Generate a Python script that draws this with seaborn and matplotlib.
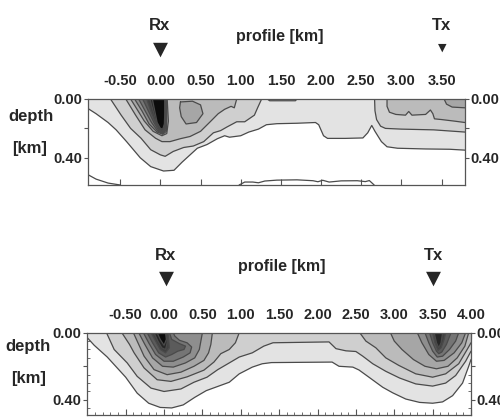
import matplotlib
matplotlib.use("Agg")
import matplotlib.pyplot as plt
import seaborn as sns

# --- contour boundaries: (profile km, depth km) ---
# upper section
top_l1 = [(-0.9, 0.065), (-0.8, 0.1), (-0.65, 0.16), (-0.55, 0.21), (-0.42, 0.29), (-0.25, 0.4),
          (-0.12, 0.46), (0.04, 0.49), (0.17, 0.485), (0.27, 0.43), (0.37, 0.38), (0.46, 0.335),
          (0.58, 0.31), (0.71, 0.27), (0.8, 0.25), (0.86, 0.26), (1.0, 0.25), (1.1, 0.225),
          (1.22, 0.205), (1.32, 0.175), (1.45, 0.168), (1.7, 0.165), (1.93, 0.16), (1.97, 0.175),
          (2.03, 0.25), (2.08, 0.268), (2.3, 0.268), (2.52, 0.265), (2.58, 0.23), (2.63, 0.18),
          (2.67, 0.22), (2.75, 0.29), (2.82, 0.325), (2.95, 0.335), (3.3, 0.34), (3.6, 0.342), (3.79, 0.348)]
top_l2a = [(-0.62, 0.0), (-0.49, 0.108), (-0.37, 0.2), (-0.24, 0.267), (-0.12, 0.345), (0.0, 0.38),
           (0.06, 0.39), (0.16, 0.357), (0.29, 0.33), (0.41, 0.32), (0.54, 0.29), (0.66, 0.23),
           (0.75, 0.215), (0.83, 0.19), (0.95, 0.155), (1.05, 0.155), (1.17, 0.11), (1.21, 0.06), (1.26, 0.0)]
top_l2b = [(2.665, 0.0), (2.67, 0.08), (2.69, 0.14), (2.74, 0.185), (2.8, 0.2), (3.0, 0.205),
           (3.4, 0.21), (3.79, 0.225)]
top_l2c = [(1.33, 0.0), (1.36, 0.012), (1.68, 0.012), (1.7, 0.0)]
top_l3a = [(-0.43, 0.0), (-0.31, 0.108), (-0.19, 0.21), (-0.06, 0.267), (0.02, 0.29), (0.12, 0.29),
           (0.25, 0.27), (0.37, 0.255), (0.5, 0.22), (0.62, 0.155), (0.72, 0.1), (0.8, 0.07),
           (0.88, 0.05), (0.92, 0.06), (0.95, 0.0)]
top_l3b = [(2.82, 0.0), (2.82, 0.05), (2.85, 0.09), (2.93, 0.105), (3.05, 0.11), (3.09, 0.085),
           (3.13, 0.11), (3.3, 0.105), (3.36, 0.075), (3.39, 0.1), (3.41, 0.135), (3.5, 0.14),
           (3.65, 0.15), (3.79, 0.16)]
top_l4a = [(-0.37, 0.0), (-0.29, 0.07), (-0.2, 0.15), (-0.09, 0.22), (0.02, 0.25), (0.08, 0.235),
           (0.1, 0.15), (0.09, 0.05), (0.085, 0.0)]
top_l4b = [(3.53, 0.0), (3.56, 0.035), (3.63, 0.055), (3.79, 0.06)]
top_blob = [(0.25, 0.02), (0.4, 0.015), (0.5, 0.04), (0.53, 0.1), (0.45, 0.16), (0.32, 0.17),
            (0.26, 0.12), (0.24, 0.06), (0.25, 0.02)]
top_l5 = [(-0.32, 0.0), (-0.23, 0.08), (-0.14, 0.17), (-0.04, 0.225), (0.03, 0.24), (0.075, 0.22), (0.08, 0.1), (0.08, 0.0)]
top_l6 = [(-0.27, 0.0), (-0.19, 0.08), (-0.11, 0.16), (-0.03, 0.22), (0.03, 0.235), (0.07, 0.21), (0.075, 0.1), (0.075, 0.0)]
top_l7 = [(-0.22, 0.0), (-0.15, 0.08), (-0.08, 0.16), (-0.02, 0.215), (0.03, 0.23), (0.065, 0.2), (0.07, 0.1), (0.07, 0.0)]
top_l8 = [(-0.17, 0.0), (-0.12, 0.08), (-0.06, 0.16), (-0.01, 0.21), (0.03, 0.225), (0.06, 0.19), (0.065, 0.1), (0.065, 0.0)]
top_l9 = [(-0.13, 0.0), (-0.09, 0.08), (-0.05, 0.16), (0.0, 0.205), (0.03, 0.215), (0.055, 0.18), (0.06, 0.1), (0.06, 0.0)]
top_l10 = [(-0.1, 0.0), (-0.07, 0.08), (-0.04, 0.16), (0.0, 0.2), (0.03, 0.205), (0.05, 0.17), (0.055, 0.1), (0.055, 0.0)]
top_deep_a = [(-0.9, 0.515), (-0.8, 0.545), (-0.65, 0.572), (-0.5, 0.585)]
top_deep_b = [(0.98, 0.585), (1.05, 0.565), (1.15, 0.565), (1.22, 0.57), (1.3, 0.558), (1.45, 0.552),
              (1.7, 0.55), (1.9, 0.556), (1.96, 0.563), (2.02, 0.553), (2.1, 0.565), (2.25, 0.557),
              (2.45, 0.556), (2.55, 0.562), (2.6, 0.555), (2.66, 0.585)]

# lower section
bot_l1 = [(-1.0, 0.03), (-0.91, 0.075), (-0.74, 0.145), (-0.63, 0.2), (-0.5, 0.265), (-0.35, 0.36),
          (-0.2, 0.42), (-0.05, 0.445), (0.1, 0.448), (0.25, 0.43), (0.4, 0.385), (0.55, 0.345),
          (0.7, 0.32), (0.85, 0.295), (0.98, 0.245), (1.15, 0.205), (1.28, 0.185), (1.4, 0.178),
          (2.19, 0.175), (2.28, 0.2), (2.46, 0.205), (2.54, 0.222), (2.67, 0.265), (2.85, 0.325),
          (2.98, 0.358), (3.15, 0.395), (3.33, 0.415), (3.5, 0.42), (3.63, 0.412), (3.76, 0.375),
          (3.89, 0.3), (3.97, 0.2), (4.0, 0.16)]
bot_l2 = [(-0.75, 0.0), (-0.65, 0.1), (-0.48, 0.18), (-0.35, 0.26), (-0.17, 0.33), (0.0, 0.35),
          (0.22, 0.335), (0.39, 0.295), (0.56, 0.265), (0.7, 0.22), (0.85, 0.18), (0.98, 0.145),
          (1.15, 0.12), (1.3, 0.08), (1.42, 0.06), (2.15, 0.055), (2.24, 0.095), (2.37, 0.108),
          (2.5, 0.112), (2.59, 0.14), (2.72, 0.185), (2.89, 0.23), (3.07, 0.27), (3.28, 0.305),
          (3.5, 0.318), (3.67, 0.3), (3.8, 0.255), (3.93, 0.17), (4.0, 0.11)]
bot_l3a = [(-0.55, 0.0), (-0.45, 0.07), (-0.39, 0.12), (-0.26, 0.21), (-0.09, 0.28), (0.09, 0.29),
           (0.3, 0.263), (0.52, 0.223), (0.65, 0.175), (0.74, 0.125), (0.85, 0.1), (0.93, 0.06), (0.98, 0.0)]
bot_l3b = [(2.55, 0.0), (2.63, 0.05), (2.76, 0.09), (2.89, 0.15), (3.06, 0.195), (3.28, 0.245),
           (3.5, 0.265), (3.67, 0.245), (3.84, 0.185), (3.95, 0.1), (4.0, 0.06)]
bot_l4a = [(-0.4, 0.0), (-0.33, 0.07), (-0.26, 0.14), (-0.13, 0.22), (0.04, 0.25), (0.22, 0.235),
           (0.39, 0.2), (0.52, 0.165), (0.58, 0.12), (0.61, 0.07), (0.63, 0.0)]
bot_l4b = [(2.95, 0.0), (3.0, 0.05), (3.1, 0.1), (3.25, 0.16), (3.4, 0.2), (3.55, 0.215), (3.7, 0.2),
           (3.82, 0.15), (3.92, 0.08), (3.97, 0.0)]
bot_l5a = [(-0.33, 0.0), (-0.25, 0.07), (-0.15, 0.15), (-0.02, 0.2), (0.12, 0.205), (0.28, 0.18),
           (0.4, 0.15), (0.46, 0.1), (0.48, 0.05), (0.5, 0.0)]
bot_l5b = [(3.3, 0.0), (3.36, 0.06), (3.45, 0.13), (3.55, 0.17), (3.65, 0.165), (3.78, 0.12), (3.88, 0.06), (3.93, 0.0)]
bot_l6a = [(-0.27, 0.0), (-0.2, 0.06), (-0.11, 0.13), (0.0, 0.17), (0.12, 0.17), (0.25, 0.145),
           (0.34, 0.12), (0.36, 0.085), (0.3, 0.06), (0.2, 0.045), (0.14, 0.02), (0.12, 0.0)]
bot_l6b = [(3.4, 0.0), (3.45, 0.06), (3.5, 0.11), (3.56, 0.145), (3.63, 0.14), (3.72, 0.1), (3.8, 0.05), (3.84, 0.0)]
bot_l7a = [(-0.22, 0.0), (-0.15, 0.06), (-0.07, 0.12), (0.02, 0.145), (0.1, 0.13), (0.18, 0.11),
           (0.26, 0.1), (0.28, 0.08), (0.2, 0.065), (0.1, 0.04), (0.07, 0.0)]
bot_l7b = [(3.46, 0.0), (3.5, 0.06), (3.55, 0.11), (3.58, 0.125), (3.62, 0.115), (3.68, 0.07), (3.74, 0.0)]
bot_l8a = [(-0.17, 0.0), (-0.11, 0.05), (-0.05, 0.1), (0.02, 0.12), (0.07, 0.09), (0.06, 0.04), (0.05, 0.0)]
bot_l8b = [(3.5, 0.0), (3.53, 0.06), (3.57, 0.105), (3.61, 0.09), (3.65, 0.04), (3.67, 0.0)]
bot_l9a = [(-0.13, 0.0), (-0.08, 0.05), (-0.03, 0.09), (0.02, 0.1), (0.04, 0.06), (0.035, 0.0)]
bot_l9b = [(3.52, 0.0), (3.55, 0.06), (3.58, 0.09), (3.61, 0.06), (3.63, 0.0)]
bot_l10a = [(-0.09, 0.0), (-0.05, 0.04), (0.0, 0.075), (0.03, 0.04), (0.02, 0.0)]

# grey shade per contour level (1 = lowest)
shades = ["#e3e3e3", "#cfcfcf", "#bbbbbb", "#a6a6a6", "#8e8e8e",
          "#757575", "#5b5b5b", "#414141", "#262626", "#0c0c0c"]

top_bands = [(1, top_l1), (2, top_l2a), (2, top_l2b), (2, top_l2c), (3, top_l3a), (3, top_l3b),
             (4, top_l4a), (4, top_l4b), (5, top_l5), (6, top_l6), (7, top_l7), (8, top_l8),
             (9, top_l9), (10, top_l10)]
top_closed = [(4, top_blob)]
top_lines_only = [top_deep_a, top_deep_b]

bot_bands = [(1, bot_l1), (2, bot_l2), (3, bot_l3a), (3, bot_l3b), (4, bot_l4a), (4, bot_l4b),
             (5, bot_l5a), (5, bot_l5b), (6, bot_l6a), (6, bot_l6b), (7, bot_l7a), (7, bot_l7b),
             (8, bot_l8a), (8, bot_l8b), (9, bot_l9a), (9, bot_l9b), (10, bot_l10a)]

xticks_top = [-0.5, 0.0, 0.5, 1.0, 1.5, 2.0, 2.5, 3.0, 3.5]
xticks_bot = [-0.5, 0.0, 0.5, 1.0, 1.5, 2.0, 2.5, 3.0, 3.5, 4.0]
yticks = [0.0, 0.2, 0.4]
ylabels = ["0.00", "", "0.40"]

sns.set_style("ticks")
plt.rcParams['font.family'] = ['Liberation Sans', 'DejaVu Sans']
plt.rcParams['font.weight'] = 'bold'

fig = plt.figure(figsize=(5, 4.17), dpi=100)
ax1 = fig.add_axes([0.176, 0.5564, 0.754, 0.2062])
ax2 = fig.add_axes([0.1746, 0.0048, 0.7674, 0.1974])

line_col = "#4a4a4a"
fsize = 10.5


def draw_section(ax, bands, closed, lines_only, xlim, ymax):
    for level, pts in bands:
        xs = [p[0] for p in pts]
        zs = [p[1] for p in pts]
        ax.fill([xs[0]] + xs + [xs[-1]], [0.0] + zs + [0.0], color=shades[level - 1], lw=0, zorder=level)
        sns.lineplot(x=xs, y=zs, sort=False, estimator=None, color=line_col, lw=0.9, ax=ax, zorder=20)
    for level, pts in closed:
        xs = [p[0] for p in pts]
        zs = [p[1] for p in pts]
        ax.fill(xs, zs, color=shades[level - 1], lw=0, zorder=level)
        sns.lineplot(x=xs, y=zs, sort=False, estimator=None, color=line_col, lw=0.9, ax=ax, zorder=20)
    for pts in lines_only:
        sns.lineplot(x=[p[0] for p in pts], y=[p[1] for p in pts], sort=False, estimator=None,
                     color=line_col, lw=0.9, ax=ax, zorder=20)
    ax.set_xlim(*xlim)
    ax.set_ylim(ymax, 0.0)
    ax.set_yticks(yticks)
    ax.set_yticklabels(ylabels)
    ax.set_xlabel("")
    ax.set_ylabel("")
    for s in ax.spines.values():
        s.set_color("#555555")
        s.set_linewidth(0.9)
        s.set_zorder(30)
    ax.tick_params(axis='x', which='major', top=True, bottom=True, labeltop=True, labelbottom=False,
                   direction='in', length=4, width=0.8, color="#555555", labelsize=fsize, pad=8)
    ax.tick_params(axis='y', which='major', left=True, right=True, labelleft=True, labelright=True,
                   direction='out', length=3, width=0.8, color="#555555", labelsize=fsize, pad=1)


draw_section(ax1, top_bands, top_closed, top_lines_only, (-0.9, 3.79), 0.585)
ax1.set_xticks(xticks_top)
ax1.set_xticklabels([f"{t:.2f}" for t in xticks_top])

draw_section(ax2, bot_bands, [], [], (-1.0, 4.0), 0.49)
ax2.set_xticks(xticks_bot)
ax2.set_xticklabels([f"{t:.2f}" for t in xticks_bot])
ax2.set_xticks([t / 10 for t in range(-10, 41)], minor=True)
ax2.set_yticks([t / 20 for t in range(0, 10)], minor=True)
ax2.tick_params(which='minor', top=True, bottom=True, left=True, right=True, direction='in',
                length=2, width=0.6, color="#555555")

# --- labels above the sections ---
def H(px):
    return 1 - px / 417


def W(px):
    return px / 500


txt = dict(ha='center', va='center', fontweight='bold', fontsize=11.5)
big = dict(ha='center', va='center', fontweight='bold', fontsize=12)
fig.text(W(160), H(25), "Rx", **big)
fig.text(W(280), H(36), "profile [km]", **txt)
fig.text(W(442), H(25), "Tx", **big)
fig.text(W(160), H(49), "▼", ha='center', va='center', fontsize=14, family='DejaVu Sans')
fig.text(W(442), H(48), "▼", ha='center', va='center', fontsize=8, family='DejaVu Sans')
fig.text(W(31), H(117), "depth", **big)
fig.text(W(30), H(148), "[km]", **big)

fig.text(W(166), H(255), "Rx", **big)
fig.text(W(282), H(267), "profile [km]", **txt)
fig.text(W(434), H(255), "Tx", **big)
fig.text(W(166), H(278), "▼", ha='center', va='center', fontsize=14, family='DejaVu Sans')
fig.text(W(433), H(278), "▼", ha='center', va='center', fontsize=14, family='DejaVu Sans')
fig.text(W(28), H(347), "depth", **big)
fig.text(W(29), H(378), "[km]", **big)

fig.savefig("out.png", dpi=100, facecolor="white")
